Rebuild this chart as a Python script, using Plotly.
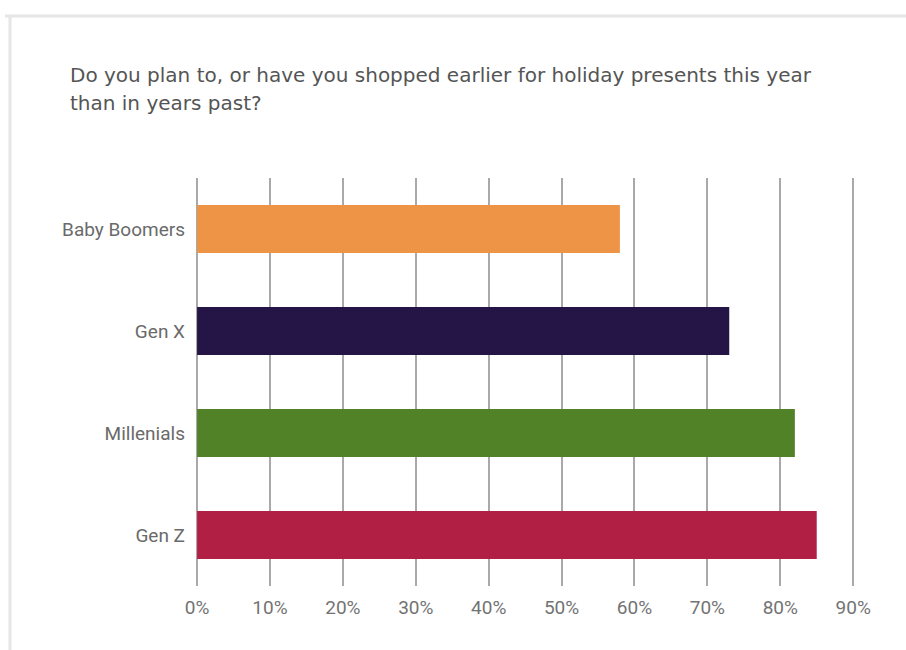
import plotly.graph_objects as go

categories = ["Baby Boomers", "Gen X", "Millenials", "Gen Z"]
values = [58, 73, 82, 85]
colors = ["#EE9446", "#251446", "#528227", "#B11F45"]
tick_vals = [0, 10, 20, 30, 40, 50, 60, 70, 80, 90]
tick_text = [f"{v}%" for v in tick_vals]
title_lines = ["Do you plan to, or have you shopped earlier for holiday presents this year",
               "than in years past?"]

W, H = 906, 650
L, R, T, B = 196, 51, 178, 64
pw, ph = W - L - R, H - T - B

fig = go.Figure(go.Bar(
    y=categories, x=values, orientation="h",
    marker=dict(color=colors, line=dict(width=0)),
    width=0.47, hoverinfo="skip",
))

def px_x(p):
    return (p - L) / pw

def px_y(p):
    return (H - B - p) / ph

fig.update_layout(
    width=W, height=H,
    margin=dict(l=L, r=R, t=T, b=B),
    paper_bgcolor="white", plot_bgcolor="white",
    showlegend=False,
    font=dict(family="Roboto", color="#666666"),
    xaxis=dict(range=[-0.15, 90.25], tickvals=tick_vals, ticktext=tick_text,
               showgrid=True, gridcolor="#A9A9A9", gridwidth=2,
               zeroline=False, showline=False, ticks="",
               ticklabelstandoff=8,
               tickfont=dict(size=19, color="#737373", family="Roboto")),
    yaxis=dict(autorange="reversed", range=[-0.5, 3.5], showgrid=False,
               zeroline=False, showline=False, ticks="",
               ticklabelstandoff=10,
               tickfont=dict(size=19, color="#6A6A6A", family="Roboto")),
    shapes=[
        dict(type="line", xref="paper", yref="paper",
             x0=px_x(5), x1=px_x(906), y0=px_y(16), y1=px_y(16),
             line=dict(color="#E6E6E6", width=3)),
        dict(type="line", xref="paper", yref="paper",
             x0=px_x(10), x1=px_x(10), y0=px_y(15), y1=px_y(650),
             line=dict(color="#E6E6E6", width=3)),
    ],
)

for i, line in enumerate(title_lines):
    fig.add_annotation(
        text=line, xref="paper", yref="paper",
        x=px_x(68), y=px_y(75 + 28 * i), xanchor="left", yanchor="middle",
        showarrow=False, align="left",
        font=dict(family="DejaVu Sans", size=20, color="#555555"),
    )

fig.write_html("out.html")
